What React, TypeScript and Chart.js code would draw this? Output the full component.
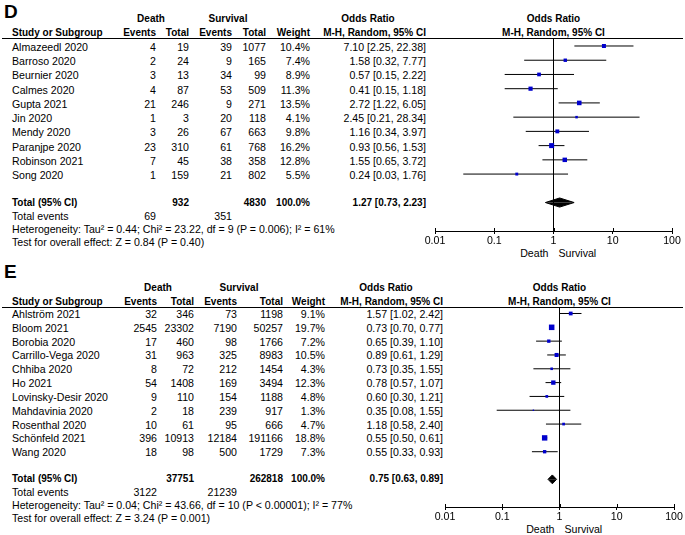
import React, { useEffect, useRef } from "react";
import { Chart, registerables } from "chart.js";

Chart.register(...registerables);

const FONT = '"Liberation Sans", Arial, Helvetica, sans-serif';
const BLUE = "#0000CC";

// ---------------- Panel D data ----------------
const studiesD = [
  "Almazeedl 2020", "Barroso 2020", "Beurnier 2020", "Calmes 2020", "Gupta 2021",
  "Jin 2020", "Mendy 2020", "Paranjpe 2020", "Robinson 2021", "Song 2020",
];
const deathEventsD = [4, 2, 3, 4, 21, 1, 3, 23, 7, 1];
const deathTotalD = [19, 24, 13, 87, 246, 3, 26, 310, 45, 159];
const survEventsD = [39, 9, 34, 53, 9, 20, 67, 61, 38, 21];
const survTotalD = [1077, 165, 99, 509, 271, 118, 663, 768, 358, 802];
const weightD = [10.4, 7.4, 8.9, 11.3, 13.5, 4.1, 9.8, 16.2, 12.8, 5.5];
const orD = [7.1, 1.58, 0.57, 0.41, 2.72, 2.45, 1.16, 0.93, 1.55, 0.24];
const lowD = [2.25, 0.32, 0.15, 0.15, 1.22, 0.21, 0.34, 0.56, 0.65, 0.03];
const highD = [22.38, 7.77, 2.22, 1.18, 6.05, 28.34, 3.97, 1.53, 3.72, 1.76];
const totalD = { deathTotal: 932, survTotal: 4830, deathEvents: 69, survEvents: 351, or: 1.27, low: 0.73, high: 2.23 };
const hetD = "Heterogeneity: Tau\u00B2 = 0.44; Chi\u00B2 = 23.22, df = 9 (P = 0.006); I\u00B2 = 61%";
const testD = "Test for overall effect: Z = 0.84 (P = 0.40)";

// ---------------- Panel E data ----------------
const studiesE = [
  "Ahlstr\u00F6m 2021", "Bloom 2021", "Borobia 2020", "Carrillo-Vega 2020", "Chhiba 2020",
  "Ho 2021", "Lovinsky-Desir 2020", "Mahdavinia 2020", "Rosenthal 2020", "Sch\u00F6nfeld 2021", "Wang 2020",
];
const deathEventsE = [32, 2545, 17, 31, 8, 54, 9, 2, 10, 396, 18];
const deathTotalE = [346, 23302, 460, 963, 72, 1408, 110, 18, 61, 10913, 98];
const survEventsE = [73, 7190, 98, 325, 212, 169, 154, 239, 95, 12184, 500];
const survTotalE = [1198, 50257, 1766, 8983, 1454, 3494, 1188, 917, 666, 191166, 1729];
const weightE = [9.1, 19.7, 7.2, 10.5, 4.3, 12.3, 4.8, 1.3, 4.7, 18.8, 7.3];
const orE = [1.57, 0.73, 0.65, 0.89, 0.73, 0.78, 0.6, 0.35, 1.18, 0.55, 0.55];
const lowE = [1.02, 0.7, 0.39, 0.61, 0.35, 0.57, 0.3, 0.08, 0.58, 0.5, 0.33];
const highE = [2.42, 0.77, 1.1, 1.29, 1.55, 1.07, 1.21, 1.55, 2.4, 0.61, 0.93];
const totalE = { deathTotal: 37751, survTotal: 262818, deathEvents: 3122, survEvents: 21239, or: 0.75, low: 0.63, high: 0.89 };
const hetE = "Heterogeneity: Tau\u00B2 = 0.04; Chi\u00B2 = 43.66, df = 10 (P < 0.00001); I\u00B2 = 77%";
const testE = "Test for overall effect: Z = 3.24 (P = 0.001)";

// ---------------- Axis ----------------
const xTicks = [0.01, 0.1, 1, 10, 100];
const leftLabel = "Death";
const rightLabel = "Survival";

// ---------------- Layout (positions only) ----------------
type Layout = {
  letter: string; letterY: number; head1Y: number; head2Y: number; ruleY: number;
  rowY0: number; rowDy: number; totalY: number; sumDy: number;
  cols: { study: number; dEv: number; dTot: number; sEv: number; sTot: number; wt: number; or: number };
  deathC: number; survC: number; orC: number;
  canvas: { left: number; top: number; width: number; height: number; padL: number; padR: number; padT: number };
  yMin: number; plotL: number; plotR: number; plotHead1Y: number; plotHead2Y: number; sideLabelY: number;
};

const layoutD: Layout = {
  letter: "D", letterY: 11.7, head1Y: 19, head2Y: 33.3, ruleY: 38,
  rowY0: 47, rowDy: 14.22, totalY: 202.5, sumDy: 13,
  cols: { study: 12, dEv: 156, dTot: 189, sEv: 232, sTot: 266, wt: 310, or: 426 },
  deathC: 151, survC: 228, orC: 368,
  canvas: { left: 420, top: 30, width: 265, height: 233, padL: 15, padR: 13, padT: 8 },
  yMin: -0.562, plotL: 435, plotR: 672, plotHead1Y: 18.5, plotHead2Y: 33.3, sideLabelY: 253.3,
};

const layoutE: Layout = {
  letter: "E", letterY: 271.7, head1Y: 288, head2Y: 301.7, ruleY: 307,
  rowY0: 314, rowDy: 13.82, totalY: 479, sumDy: 13,
  cols: { study: 12, dEv: 157, dTot: 194, sEv: 237, sTot: 283, wt: 325, or: 443 },
  deathC: 158, survC: 239, orC: 386,
  canvas: { left: 420, top: 299, width: 265, height: 240, padL: 25, padR: 11, padT: 8 },
  yMin: -0.47, plotL: 445, plotR: 674, plotHead1Y: 288, plotHead2Y: 302, sideLabelY: 529.3,
};

const DIAMOND_HALF = 0.32;

type TxtProps = { x: number; y: number; text: string | number; align?: "left" | "right" | "center"; bold?: boolean; size?: number };
const Txt = ({ x, y, text, align = "left", bold = false, size }: TxtProps) => {
  const fs = size ?? (bold ? 10 : 10.6);
  const tx = align === "left" ? "0" : align === "right" ? "-100%" : "-50%";
  return (
    <div
      style={{
        position: "absolute", left: x, top: y - 7, height: 14, lineHeight: "14px",
        fontSize: fs, fontWeight: bold ? "bold" : "normal", fontFamily: FONT,
        whiteSpace: "nowrap", transform: `translateX(${tx})`, color: "#000",
      }}
    >
      {text}
    </div>
  );
};

const fmtOR = (o: number, l: number, h: number) => `${o.toFixed(2)} [${l.toFixed(2)}, ${h.toFixed(2)}]`;

type PanelData = {
  studies: string[]; deathEvents: number[]; deathTotal: number[]; survEvents: number[]; survTotal: number[];
  weight: number[]; or: number[]; low: number[]; high: number[];
  total: { deathTotal: number; survTotal: number; deathEvents: number; survEvents: number; or: number; low: number; high: number };
  het: string; test: string;
};

const Forest = ({ d, L }: { d: PanelData; L: Layout }) => {
  const ref = useRef<HTMLCanvasElement>(null);
  useEffect(() => {
    if (!ref.current) return;
    const n = d.studies.length;
    const totalRow = n + 1;
    const yMax = totalRow + 2;
    const datasets: any[] = [];
    datasets.push({
      type: "scatter",
      data: d.or.map((v, i) => ({ x: v, y: i })),
      pointStyle: "rect",
      pointRadius: d.weight.map((w) => 0.88 * Math.sqrt(w)),
      pointBackgroundColor: BLUE,
      pointBorderColor: BLUE,
      pointBorderWidth: 0,
      showLine: false,
      order: 0,
    });
    d.low.forEach((lo, i) => {
      datasets.push({
        type: "line",
        data: [{ x: lo, y: i }, { x: d.high[i], y: i }],
        borderColor: "#000", borderWidth: 1, pointRadius: 0, fill: false, order: 1,
      });
    });
    [-DIAMOND_HALF, DIAMOND_HALF].forEach((h) => {
      datasets.push({
        type: "line",
        data: [
          { x: d.total.low, y: totalRow },
          { x: d.total.or, y: totalRow + h },
          { x: d.total.high, y: totalRow },
        ],
        borderColor: "#000", backgroundColor: "#000", borderWidth: 1, pointRadius: 0,
        fill: { value: totalRow }, order: 0,
      });
    });
    datasets.push({
      type: "line",
      data: [{ x: 1, y: L.yMin }, { x: 1, y: yMax }],
      borderColor: "#000", borderWidth: 1, pointRadius: 0, fill: false, order: 2,
    });

    const upTicks = {
      id: "upTicks",
      afterDraw(chart: any) {
        const sx = chart.scales.x;
        const ctx = chart.ctx;
        ctx.save();
        ctx.strokeStyle = "#000";
        ctx.lineWidth = 1;
        xTicks.forEach((v) => {
          const px = Math.round(sx.getPixelForValue(v)) + 0.5;
          ctx.beginPath();
          ctx.moveTo(px, sx.top - 3);
          ctx.lineTo(px, sx.top);
          ctx.stroke();
        });
        ctx.restore();
      },
    };

    const chart = new Chart(ref.current, {
      type: "scatter",
      data: { datasets },
      options: {
        animation: false,
        responsive: false,
        devicePixelRatio: 1,
        layout: { padding: { left: L.canvas.padL, right: L.canvas.padR, top: L.canvas.padT, bottom: 0 } },
        plugins: { legend: { display: false }, tooltip: { enabled: false } },
        events: [],
        scales: {
          x: {
            type: "logarithmic",
            position: "bottom",
            min: 0.01,
            max: 100,
            afterBuildTicks: (s: any) => { s.ticks = xTicks.map((v) => ({ value: v })); },
            afterFit: (s: any) => { s.height = 32; },
            ticks: {
              callback: (v: any) => String(v),
              font: { family: FONT, size: 10.6 },
              color: "#000",
              padding: 1,
              autoSkip: false,
              maxRotation: 0,
              minRotation: 0,
            },
            grid: { drawOnChartArea: false, drawTicks: true, tickLength: 3, tickWidth: 1, tickColor: "#000", color: "#000" },
            border: { display: true, color: "#000", width: 1 },
          },
          y: { type: "linear", display: false, reverse: true, min: L.yMin, max: yMax },
        },
      } as any,
      plugins: [upTicks],
    });
    return () => chart.destroy();
  }, [d, L]);

  const c = L.cols;
  const plotC = (L.plotL + L.plotR) / 2;
  const rows = d.studies.map((s, i) => {
    const y = L.rowY0 + L.rowDy * i;
    return (
      <React.Fragment key={s}>
        <Txt x={c.study} y={y} text={s} />
        <Txt x={c.dEv} y={y} text={d.deathEvents[i]} align="right" />
        <Txt x={c.dTot} y={y} text={d.deathTotal[i]} align="right" />
        <Txt x={c.sEv} y={y} text={d.survEvents[i]} align="right" />
        <Txt x={c.sTot} y={y} text={d.survTotal[i]} align="right" />
        <Txt x={c.wt} y={y} text={`${d.weight[i].toFixed(1)}%`} align="right" />
        <Txt x={c.or} y={y} text={fmtOR(d.or[i], d.low[i], d.high[i])} align="right" />
      </React.Fragment>
    );
  });
  const t = d.total;
  return (
    <>
      <Txt x={4} y={L.letterY} text={L.letter} bold size={19} />
      <Txt x={L.deathC} y={L.head1Y} text="Death" bold align="center" />
      <Txt x={L.survC} y={L.head1Y} text="Survival" bold align="center" />
      <Txt x={L.orC} y={L.head1Y} text="Odds Ratio" bold align="center" />
      <Txt x={plotC} y={L.plotHead1Y} text="Odds Ratio" bold align="center" />
      <Txt x={c.study} y={L.head2Y} text="Study or Subgroup" bold />
      <Txt x={c.dEv} y={L.head2Y} text="Events" bold align="right" />
      <Txt x={c.dTot} y={L.head2Y} text="Total" bold align="right" />
      <Txt x={c.sEv} y={L.head2Y} text="Events" bold align="right" />
      <Txt x={c.sTot} y={L.head2Y} text="Total" bold align="right" />
      <Txt x={c.wt} y={L.head2Y} text="Weight" bold align="right" />
      <Txt x={c.or} y={L.head2Y} text="M-H, Random, 95% CI" bold align="right" />
      <Txt x={plotC} y={L.plotHead2Y} text="M-H, Random, 95% CI" bold align="center" />
      <div style={{ position: "absolute", left: 2, top: L.ruleY, width: 681, height: 1, background: "#000" }} />
      {rows}
      <Txt x={c.study} y={L.totalY} text="Total (95% CI)" bold />
      <Txt x={c.dTot} y={L.totalY} text={t.deathTotal} bold align="right" />
      <Txt x={c.sTot} y={L.totalY} text={t.survTotal} bold align="right" />
      <Txt x={c.wt} y={L.totalY} text="100.0%" bold align="right" />
      <Txt x={c.or} y={L.totalY} text={fmtOR(t.or, t.low, t.high)} bold align="right" />
      <Txt x={c.study} y={L.totalY + L.sumDy} text="Total events" />
      <Txt x={c.dEv} y={L.totalY + L.sumDy} text={t.deathEvents} align="right" />
      <Txt x={c.sEv} y={L.totalY + L.sumDy} text={t.survEvents} align="right" />
      <Txt x={c.study} y={L.totalY + 2 * L.sumDy} text={d.het} />
      <Txt x={c.study} y={L.totalY + 3 * L.sumDy} text={d.test} />
      <Txt x={plotC - 5} y={L.sideLabelY} text={leftLabel} align="right" />
      <Txt x={plotC + 5} y={L.sideLabelY} text={rightLabel} />
      <canvas
        ref={ref}
        width={L.canvas.width}
        height={L.canvas.height}
        style={{ position: "absolute", left: L.canvas.left, top: L.canvas.top, width: L.canvas.width, height: L.canvas.height }}
      />
    </>
  );
};

const panelD: PanelData = {
  studies: studiesD, deathEvents: deathEventsD, deathTotal: deathTotalD, survEvents: survEventsD, survTotal: survTotalD,
  weight: weightD, or: orD, low: lowD, high: highD, total: totalD, het: hetD, test: testD,
};
const panelE: PanelData = {
  studies: studiesE, deathEvents: deathEventsE, deathTotal: deathTotalE, survEvents: survEventsE, survTotal: survTotalE,
  weight: weightE, or: orE, low: lowE, high: highE, total: totalE, het: hetE, test: testE,
};

export default function App() {
  return (
    <div style={{ position: "absolute", left: 0, top: 0, width: 685, height: 535, background: "#fff", overflow: "hidden" }}>
      <Forest d={panelD} L={layoutD} />
      <Forest d={panelE} L={layoutE} />
    </div>
  );
}
